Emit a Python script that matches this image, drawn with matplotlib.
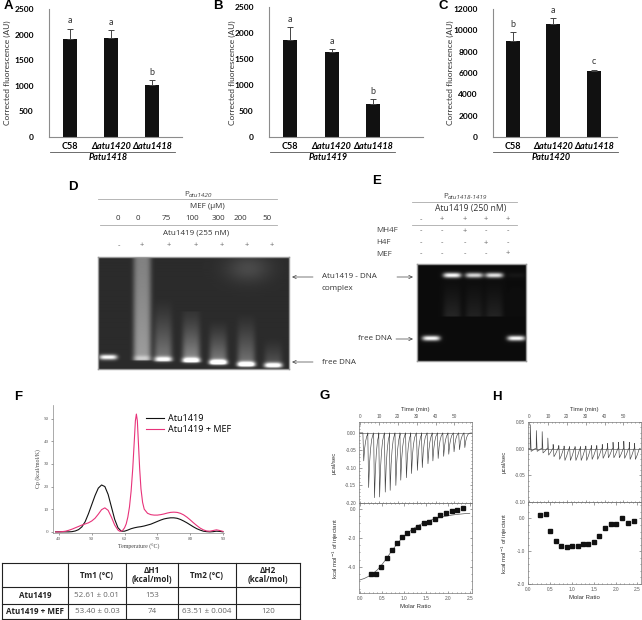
import matplotlib
matplotlib.use("Agg")
import matplotlib.pyplot as plt
import numpy as np

plt.rcParams["font.family"] = ["Open Sans", "DejaVu Sans"]

W, H = 642, 620

# ---- bar panels A-C ----
cats = ["C58", "Δatu1420", "Δatu1418"]
A_vals = [1920, 1935, 1025]
A_err = [195, 150, 80]
A_sig = ["a", "a", "b"]
B_vals = [1860, 1635, 635]
B_err = [255, 55, 90]
B_sig = ["a", "a", "b"]
C_vals = [9010, 10600, 6190]
C_err = [800, 540, 110]
C_sig = ["b", "a", "c"]
A_ticks = [0, 500, 1000, 1500, 2000, 2500]
C_ticks = [0, 2000, 4000, 6000, 8000, 10000, 12000]

# ---- gel D (MEF titration) ----
D_mef = ["0", "0", "75", "100", "300", "200", "50"]
D_prot = ["-", "+", "+", "+", "+", "+", "+"]
D_lane_x = [10, 44, 65, 93, 120, 148, 175]
D_band_y = [100, 101, 102, 103, 105, 107, 108]
D_band_int = [0.85, 0.2, 0.6, 0.7, 0.9, 0.9, 0.85]
D_smear_top = [96, 0, 40, 55, 62, 55, 80]
D_smear_int = [0.0, 0.45, 0.32, 0.4, 0.34, 0.3, 0.18]
D_smear_base = [0.0, 0.75, 0.0, 0.1, 0.0, 0.0, 0.0]

# ---- gel E ----
E_prot = ["-", "+", "+", "+", "+"]
E_mh4f = ["-", "-", "+", "-", "-"]
E_h4f = ["-", "-", "-", "+", "-"]
E_mef = ["-", "-", "-", "-", "+"]
E_lane_x = [14, 35, 57, 77, 99]
E_complex = [0.0, 0.95, 0.8, 0.85, 0.04]
E_free = [0.95, 0.0, 0.0, 0.0, 0.95]

# ---- DSC panel F ----
T_apo = [39, 40, 41, 42, 43, 44, 45, 46, 47, 48, 49, 50, 51, 52, 53, 54, 55,
         56, 57, 58, 59, 60, 61, 62, 63, 64, 65, 66, 67, 68, 69, 70, 71, 72,
         73, 74, 75, 76, 77, 78, 79, 80, 81, 82, 83, 84, 85, 86, 87, 88, 89, 90]
Cp_apo = [0, 0, 0, 0, 0, 0.1, 0.4, 1.0, 2.2, 4.5, 8.0, 12.0, 16.0, 19.3, 20.7,
          20.0, 16.5, 11.0, 5.5, 1.8, 0.3, 0.3, 0.8, 1.4, 1.8, 2.1, 2.3, 2.6,
          3.0, 3.4, 4.0, 4.6, 5.2, 5.7, 6.0, 6.2, 6.2, 6.0, 5.5, 4.8, 4.0, 3.1,
          2.2, 1.4, 0.8, 0.3, 0.1, 0.0, 0.1, 0.3, 0.2, 0.0]
T_mef = [39, 40, 41, 42, 43, 44, 45, 46, 47, 48, 49, 50, 51, 52, 53, 54, 55,
         56, 57, 58, 58.5, 59, 59.5, 60, 60.5, 61, 61.5, 62, 62.5, 63, 63.3,
         63.6, 63.9, 64.2, 64.6, 65, 65.5, 66, 67, 68, 69, 70, 71, 72, 73, 74,
         75, 76, 77, 78, 79, 80, 81, 82, 83, 84, 85, 86, 87, 88, 89, 90]
Cp_mef = [0, 0, 0.1, 0.3, 0.7, 1.2, 1.8, 2.4, 3.0, 3.5, 4.0, 4.8, 6.0, 7.8,
          9.8, 10.6, 9.5, 6.5, 3.0, 0.8, 0.3, 0.3, 0.8, 1.8, 3.5, 6.5, 11, 18,
          28, 41, 49, 52, 49, 40, 28, 19, 13, 10, 8.2, 7.6, 7.4, 7.4, 7.6,
          7.9, 8.3, 8.6, 8.7, 8.6, 8.2, 7.5, 6.5, 5.3, 4.0, 2.8, 1.7, 0.9, 0.4,
          0.3, 0.6, 0.9, 0.6, 0.2]

tab_head = ["", "Tm1 (°C)", "ΔH1\n(kcal/mol)", "Tm2 (°C)", "ΔH2\n(kcal/mol)"]
tab_rows = [["Atu1419", "52.61 ± 0.01", "153", "", ""],
            ["Atu1419 + MEF", "53.40 ± 0.03", "74", "63.51 ± 0.004", "120"]]

# ---- ITC panels G, H ----
G_inj = [2.0, 4.6, 7.7, 10.4, 13.4, 16.0, 19.0, 21.6, 24.6, 27.3, 30.4, 33.0,
         36.0, 38.6, 41.4, 44.3, 47.0, 49.8, 52.7, 55.5]
G_depth = [-0.08, -0.156, -0.185, -0.183, -0.169, -0.164, -0.15, -0.135,
           -0.128, -0.116, -0.107, -0.099, -0.088, -0.08, -0.073, -0.067,
           -0.061, -0.054, -0.048, -0.042]
G_ratio = [0.25, 0.36, 0.48, 0.61, 0.73, 0.85, 0.96, 1.08, 1.21, 1.33, 1.45,
           1.58, 1.70, 1.83, 1.97, 2.10, 2.21, 2.35]
G_heat = [-4.46, -4.46, -4.0, -3.37, -2.84, -2.33, -1.94, -1.64, -1.43, -1.25,
          -0.99, -0.88, -0.67, -0.46, -0.28, -0.14, -0.07, 0.05]
G_fit_x = [0.0, 0.1, 0.2, 0.3, 0.4, 0.5, 0.6, 0.7, 0.8, 0.9, 1.0, 1.1, 1.2,
           1.3, 1.4, 1.5, 1.6, 1.7, 1.8, 1.9, 2.0, 2.1, 2.2, 2.3, 2.4, 2.5]
G_fit_y = [-4.9, -4.8, -4.65, -4.45, -4.2, -3.85, -3.45, -3.0, -2.6, -2.22,
           -1.9, -1.63, -1.4, -1.2, -1.04, -0.9, -0.79, -0.69, -0.61, -0.54,
           -0.48, -0.43, -0.39, -0.36, -0.33, -0.31]
H_inj = [0.7, 3.9, 7.0, 10.0, 12.8, 15.8, 18.6, 21.5, 24.4, 27.2, 30.1, 33.0,
         35.9, 38.8, 41.6, 44.5, 47.4, 50.2, 53.1, 55.9]
H_up = [0.045, 0.034, 0.032, 0.02, 0.008, 0.006, 0.005, 0.004, 0.004, 0.004,
        0.005, 0.006, 0.006, 0.008, 0.01, 0.012, 0.012, 0.014, 0.012, 0.01]
H_down = [-0.005, -0.005, -0.008, -0.012, -0.015, -0.02, -0.022, -0.022,
          -0.022, -0.022, -0.022, -0.02, -0.02, -0.018, -0.017, -0.017,
          -0.017, -0.018, -0.02, -0.02]
H_ratio = [0.27, 0.40, 0.51, 0.64, 0.76, 0.88, 1.01, 1.14, 1.26, 1.38, 1.51,
           1.63, 1.76, 1.89, 2.02, 2.15, 2.28, 2.41]
H_heat = [0.09, 0.12, -0.38, -0.70, -0.84, -0.87, -0.85, -0.84, -0.79, -0.79,
          -0.71, -0.55, -0.29, -0.17, -0.17, 0.0, -0.13, -0.08]


fig = plt.figure(figsize=(W / 100, H / 100), dpi=100)


def add_px(l, t, r, b):
    return fig.add_axes([l / W, 1 - b / H, (r - l) / W, (b - t) / H])


def bar_panel(box, vals, errs, sig, ticks, xlim):
    ax = add_px(*box)
    x = np.arange(len(vals))
    ax.bar(x, vals, width=0.34, color="#111111",
           yerr=[np.zeros(len(errs)), errs],
           error_kw=dict(ecolor="#444444", capsize=2, elinewidth=0.7,
                         capthick=0.7))
    for xi, v, e, s in zip(x, vals, errs, sig):
        ax.annotate(s, (xi, v + e), xytext=(0, 2.5), textcoords="offset points",
                    ha="center", va="bottom", fontsize=6.5, color="#333333",
                    family=["Lato", "DejaVu Sans"])
    ax.set_xlim(*xlim)
    ax.set_ylim(ticks[0], ticks[-1])
    ax.set_yticks(ticks)
    ax.set_xticks(x)
    ax.set_xticklabels(cats)
    for i, lab in enumerate(ax.get_xticklabels()):
        lab.set_fontweight("bold")
        lab.set_family(["Lato", "DejaVu Sans"])
        if i > 0:
            lab.set_style("italic")
    for lab in ax.get_yticklabels():
        lab.set_fontweight("bold")
        lab.set_family(["Lato", "DejaVu Sans"])
    ax.tick_params(axis="y", length=0, pad=11, labelsize=6)
    ax.tick_params(axis="x", length=0, pad=3.5, labelsize=6.5)
    for s in ["top", "right"]:
        ax.spines[s].set_visible(False)
    for s in ["left", "bottom"]:
        ax.spines[s].set_color("#8c8c8c")
        ax.spines[s].set_linewidth(0.8)
    ax.patch.set_alpha(0)
    return ax


bar_panel((49, 9, 182, 137), A_vals, A_err, A_sig, A_ticks, (-0.51, 2.73))
bar_panel((269, 7, 423, 137), B_vals, B_err, B_sig, A_ticks, (-0.51, 3.2))
bar_panel((493, 9, 617, 137), C_vals, C_err, C_sig, C_ticks, (-0.49, 2.57))


def gel_image(w, h, bg, lanes, bands, smears, blob=None):
    yy, xx = np.mgrid[0:h * 2, 0:w * 2] / 2.0
    img = np.full(xx.shape, bg)
    if blob is not None:
        bx, by, bs, ba = blob
        img += ba * np.exp(-(((xx - bx) / (bs * 1.6)) ** 2 + ((yy - by) / bs) ** 2))
    for lx, (by, bi), (st, si, sb, base) in zip(lanes, bands, smears):
        prof = np.exp(-((xx - lx) / 9.0) ** 4)
        img += bi * prof * np.exp(-((yy - by) / 2.6) ** 2)
        if si > 0:
            frac = np.clip((yy - st) / max(sb - st, 1), 0, 1)
            inside = (yy >= st) & (yy <= sb + 2)
            img += si * prof * inside * (base + (1 - base) * frac ** 1.3)
    return np.clip(img, 0, 1)


# gel D
axD = add_px(98, 257, 289, 369)
imgD = gel_image(191, 112, 0.17, D_lane_x,
                 list(zip(D_band_y, D_band_int)),
                 list(zip(D_smear_top, D_smear_int, D_band_y, D_smear_base)),
                 blob=(150, 12, 14, 0.12))
axD.imshow(imgD, cmap="gray", vmin=0, vmax=1, aspect="auto",
           extent=(0, 191, 112, 0), interpolation="bilinear")
axD.set_xticks([])
axD.set_yticks([])
for s in axD.spines.values():
    s.set_color("#9a9a9a")
    s.set_linewidth(1.0)

# gel E
axE = add_px(417, 264, 526, 361)
imgE = gel_image(109, 97, 0.05, E_lane_x + E_lane_x,
                 list(zip([11] * 5, E_complex)) + list(zip([74] * 5, E_free)),
                 [(12, c * 0.1, 50, 0.0) for c in E_complex[::-1]][::-1]
                 + [(0, 0, 0, 0)] * 5)
axE.imshow(imgE, cmap="gray", vmin=0, vmax=1, aspect="auto",
           extent=(0, 109, 97, 0), interpolation="bilinear")
axE.set_xticks([])
axE.set_yticks([])
for s in axE.spines.values():
    s.set_color("#9a9a9a")
    s.set_linewidth(1.0)

# DSC F
axF = add_px(53, 405, 224, 533)
axF.plot(T_apo, Cp_apo, color="#111111", lw=0.8, label="Atu1419")
axF.plot(T_mef, Cp_mef, color="#e8337a", lw=0.8, label="Atu1419 + MEF")
axF.set_xlim(38.2, 90.3)
axF.set_ylim(-0.5, 56)
axF.set_xticks([40, 50, 60, 70, 80, 90])
axF.set_yticks([0, 10, 20, 30, 40, 50])
axF.tick_params(labelsize=3.6, length=1.5, width=0.4, pad=1.5, colors="#555555")
for lab in axF.get_xticklabels() + axF.get_yticklabels():
    lab.set_family("Liberation Serif")
for s in ["top", "right"]:
    axF.spines[s].set_visible(False)
for s in ["left", "bottom"]:
    axF.spines[s].set_color("#888888")
    axF.spines[s].set_linewidth(0.5)
axF.set_xlabel("Temperature (°C)", fontsize=4.2, family="Liberation Serif",
               color="#444444", labelpad=2)
axF.set_ylabel("Cp (kcal/mol/K)", fontsize=4.2, family="Liberation Serif",
               color="#444444", labelpad=2)
axF.legend(loc="upper left", bbox_to_anchor=(0.52, 0.96), frameon=False,
           fontsize=6.5, handlelength=2.0, handletextpad=0.5, labelspacing=0.3,
           borderaxespad=0)
axF.patch.set_alpha(0)


def itc_trace(inj, shape):
    t = [-0.5, 0.0]
    y = [0.0, 0.0]
    for ti, vals in zip(inj, shape):
        for dt, v in vals(ti):
            t.append(dt)
            y.append(v)
    t.append(59)
    y.append(0.0)
    return t, y


def g_shape(d):
    return lambda ti: [(ti - 0.45, 0.0), (ti, d), (ti + 0.5, 0.55 * d),
                       (ti + 1.0, 0.3 * d), (ti + 1.6, 0.12 * d),
                       (ti + 2.3, 0.03 * d)]


def h_shape(u, d):
    return lambda ti: [(ti - 0.05, 0.0), (ti, u), (ti + 0.45, d),
                       (ti + 1.4, 0.6 * d), (ti + 2.5, 0.0)]


def itc_panel(top_box, bot_box, inj, shape, ylim_top, yt_top, ylim_bot,
              yt_bot, xlim_bot, ratio, heat, fit=None):
    axt = add_px(*top_box)
    t, y = itc_trace(inj, shape)
    axt.axhline(0, color="#666666", lw=0.5)
    axt.plot(t, y, color="#444444", lw=0.45)
    axt.set_xlim(-0.5, 59.3)
    axt.set_ylim(*ylim_top)
    axt.set_xticks([0, 10, 20, 30, 40, 50])
    axt.set_yticks(yt_top)
    axt.yaxis.set_major_formatter(matplotlib.ticker.FormatStrFormatter("%.2f"))
    axt.xaxis.tick_top()
    axt.xaxis.set_label_position("top")
    axt.set_xlabel("Time (min)", fontsize=4.3, color="#333333", labelpad=2,
                   family="Liberation Sans")
    axt.set_ylabel("µcal/sec", fontsize=4.3, color="#333333", labelpad=6,
                   family="Liberation Sans")
    axb = add_px(*bot_box)
    if fit is not None:
        axb.plot(fit[0], fit[1], color="#555555", lw=0.5)
    axb.plot(ratio, heat, "s", color="#111111", ms=2.2)
    axb.set_xlim(*xlim_bot)
    axb.set_ylim(*ylim_bot)
    axb.set_xticks([0.0, 0.5, 1.0, 1.5, 2.0, 2.5])
    axb.set_yticks(yt_bot)
    axb.xaxis.set_major_formatter(matplotlib.ticker.FormatStrFormatter("%.1f"))
    axb.yaxis.set_major_formatter(matplotlib.ticker.FormatStrFormatter("%.1f"))
    axb.set_xlabel("Molar Ratio", fontsize=4.3, color="#333333", labelpad=2,
                   family="Liberation Sans")
    axb.set_ylabel("kcal mol$^{-1}$ of injectant", fontsize=4.3,
                   color="#333333", labelpad=5, family="Liberation Sans")
    for ax in (axt, axb):
        ax.minorticks_on()
        ax.tick_params(which="both", direction="in", labelsize=3.4,
                       colors="#555555", width=0.4, pad=2)
        ax.tick_params(which="major", length=1.8)
        ax.tick_params(which="minor", length=1.0)
        ax.tick_params(which="both", top=True, right=True)
        for lab in ax.get_xticklabels() + ax.get_yticklabels():
            lab.set_family("Liberation Sans")
        for s in ax.spines.values():
            s.set_color("#777777")
            s.set_linewidth(0.5)
        ax.patch.set_alpha(0)
    axt.tick_params(which="both", bottom=True, labelbottom=False,
                    labeltop=True)
    return axt, axb


itc_panel((359, 422, 472, 503), (359, 503, 472, 593), G_inj,
          [g_shape(d) for d in G_depth], (-0.2, 0.031),
          [0.0, -0.05, -0.10, -0.15, -0.20], (-5.8, 0.4), [0.0, -2.0, -4.0],
          (-0.02, 2.55), G_ratio, G_heat, fit=(G_fit_x, G_fit_y))
itc_panel((528, 422, 641, 502), (528, 502, 641, 584), H_inj,
          [h_shape(u, d) for u, d in zip(H_up, H_down)], (-0.10, 0.05),
          [0.05, 0.0, -0.05, -0.10], (-2.0, 0.5), [0.0, -1.0, -2.0],
          (0.1, 2.58), H_ratio, H_heat)

# ---- overlay: letters, labels, lines, table ----
ov = fig.add_axes([0, 0, 1, 1])
ov.set_xlim(0, W)
ov.set_ylim(H, 0)
ov.axis("off")

letter_kw = dict(fontsize=9.5, fontweight="bold", family="Liberation Sans",
                 va="center", ha="center")
for lt, lx, ly in [("A", 8, 6), ("B", 218, 6), ("C", 443, 6), ("D", 73, 187),
                   ("E", 377, 181), ("F", 18, 397), ("G", 325, 396),
                   ("H", 497, 397)]:
    ov.text(lx, ly, lt, **letter_kw)

ylab_kw = dict(fontsize=6, rotation=90, ha="center", va="center",
               color="#333333", family=["Lato", "DejaVu Sans"])
for yx in (7, 232, 450):
    ov.text(yx, 73, "Corrected fluorescence (AU)", **ylab_kw)
for (x0, x1), prom in zip([(50, 175), (270, 395), (493, 618)],
                          ["Patu1418", "Patu1419", "Patu1420"]):
    ov.plot([x0, x1], [152, 152], color="#555555", lw=0.6)
    ov.text((x0 + x1) / 2 - 4, 158, prom, fontsize=6.5, fontweight="bold",
            style="italic", ha="center", va="center",
            family=["Lato", "DejaVu Sans"])

gtxt = dict(fontsize=5.8, color="#333333", ha="center", va="center")
# gel D header
ov.text(184, 194, "P", ha="left", va="center", fontsize=5.8, color="#444444")
ov.text(188.5, 195.5, "atu1420", ha="left", va="center", fontsize=4.6,
        style="italic", color="#444444")
ov.plot([98, 277], [199, 199], color="#aaaaaa", lw=0.6)
ov.text(207, 206, "MEF (µM)", **gtxt)
for xx, s in zip([118, 138, 166, 192, 218, 240, 267], D_mef):
    ov.text(xx, 219, s, **gtxt)
ov.plot([100, 277], [225, 225], color="#aaaaaa", lw=0.6)
ov.text(196, 233, "Atu1419 (255 nM)", **gtxt)
for xx, s in zip([119, 142, 169, 196, 222, 247, 272], D_prot):
    ov.text(xx, 246, s, fontsize=5.5, color="#666666", ha="center",
            va="center")

# gel E header
ov.text(443, 196, "P", ha="left", va="center", fontsize=5.8, color="#444444")
ov.text(447.5, 197.5, "atu1418-1419", ha="left", va="center", fontsize=4.6,
        style="italic", color="#444444")
ov.plot([412, 517], [202, 202], color="#aaaaaa", lw=0.6)
ov.text(471, 209, "Atu1419 (250 nM)", fontsize=6.2, color="#333333",
        ha="center", va="center")
ov.plot([412, 517], [225, 225], color="#aaaaaa", lw=0.6)
E_x = [421, 442, 465, 486, 508]
for row, yy in zip([E_prot, E_mh4f, E_h4f, E_mef], [220, 231, 243, 254]):
    for xx, s in zip(E_x, row):
        ov.text(xx, yy, s, fontsize=5.5, color="#666666", ha="center",
                va="center")
for lab, yy in zip(["MH4F", "H4F", "MEF"], [231, 243, 254]):
    ov.text(376, yy, lab, fontsize=5.8, color="#444444", ha="left",
            va="center")

# arrows and gel labels
arr = dict(arrowstyle="->,head_length=0.25,head_width=0.12", color="#444444",
           lw=0.5, shrinkA=0, shrinkB=0)
ov.annotate("", xy=(292, 277), xytext=(313, 277), arrowprops=arr)
ov.annotate("", xy=(292, 362), xytext=(313, 362), arrowprops=arr)
ov.annotate("", xy=(413, 277), xytext=(397, 277), arrowprops=arr)
ov.annotate("", xy=(413, 339), xytext=(396, 339), arrowprops=arr)
ov.text(322, 277, "Atu1419 - DNA", fontsize=5.8, color="#333333", ha="left",
        va="center")
ov.text(322, 288, "complex", fontsize=5.8, color="#333333", ha="left",
        va="center")
ov.text(322, 362, "free DNA", fontsize=5.8, color="#333333", ha="left",
        va="center")
ov.text(392, 339, "free DNA", fontsize=5.8, color="#333333", ha="right",
        va="center")

# table
col_x = [2, 68, 126, 178, 236, 300]
row_y = [563, 587, 604, 619]
for xx in col_x:
    ov.plot([xx, xx], [row_y[0], row_y[-1]], color="#222222", lw=0.8)
for yy in row_y:
    ov.plot([col_x[0], col_x[-1]], [yy, yy], color="#222222", lw=0.8)
for j, txt in enumerate(tab_head):
    ov.text((col_x[j] + col_x[j + 1]) / 2, (row_y[0] + row_y[1]) / 2, txt,
            fontsize=5.8, fontweight="bold", ha="center", va="center",
            linespacing=1.1, color="#222222")
for i, row in enumerate(tab_rows):
    yc = (row_y[i + 1] + row_y[i + 2]) / 2
    for j, txt in enumerate(row):
        ov.text((col_x[j] + col_x[j + 1]) / 2, yc, txt, fontsize=5.8,
                fontweight="bold" if j == 0 else "normal",
                color="#222222" if j == 0 else "#666666",
                ha="center", va="center")

fig.savefig("out.png", dpi=100)
